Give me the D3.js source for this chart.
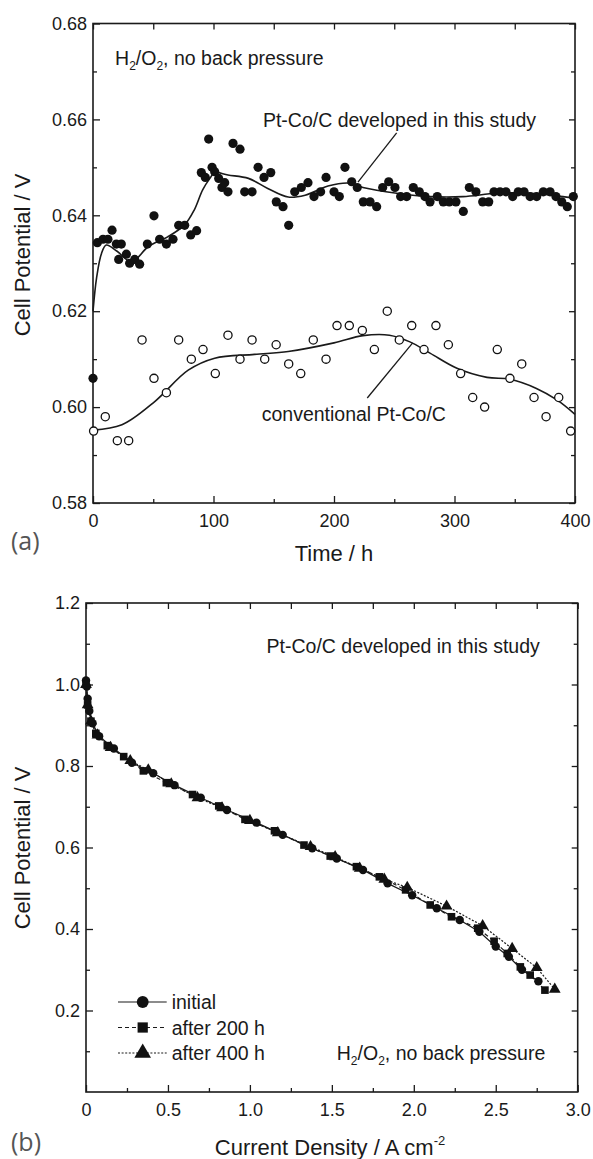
<!DOCTYPE html>
<html>
<head>
<meta charset="utf-8">
<script src="https://cdn.jsdelivr.net/npm/d3@7"></script>
<style>
  body { margin: 0; background: #fff; }
  svg { display: block; }
  text { font-family: "Liberation Sans", Arial, sans-serif; fill: #1a1a1a; }
</style>
</head>
<body>
<svg id="chart" width="593" height="1159"></svg>
<script>
// ---- panel (a): durability at 0.? A cm-2, cell potential vs time ----
const devTime = [0, 3.6, 8.3, 12.4, 15.8, 19.4, 21.3, 23.5, 27.7, 30.4, 34.6, 38.7, 45.1, 50.6, 55.3, 60.9, 66.4, 71.1, 76.1, 81.1,
    86, 89.9, 93.2, 96, 98.8, 101, 104.3, 107, 109.3, 112, 116.2, 122, 125.9, 132, 137, 141.9, 147.5, 152.1, 157.7, 162.4,
    167.4, 172.9, 178.4, 183.4, 188.9, 193.4, 200, 204.4, 209.1, 214.7, 219.3, 224.3, 229.9, 235.4, 240.4, 245.4, 250.6, 255.3, 260.3, 265.8,
    270.8, 275.5, 279.7, 285.7, 290.7, 295.7, 301.2, 307.3, 312.3, 317.8, 323.4, 328.4, 332.8, 337.8, 342.7, 348.3, 352.9, 357.7, 362.7, 368.2,
    373.7, 379.3, 384.2, 389, 393.6, 398.6];
const devV = [0.606, 0.6343, 0.6350, 0.6350, 0.6369, 0.6340, 0.6308, 0.6340, 0.6319, 0.6300, 0.6308, 0.6298, 0.6340, 0.6399, 0.6350, 0.6340, 0.6350, 0.6379, 0.6379, 0.6359,
    0.6368, 0.6489, 0.6479, 0.6559, 0.6500, 0.6491, 0.6477, 0.6458, 0.6468, 0.6449, 0.6550, 0.6538, 0.6449, 0.6449, 0.6500, 0.6479, 0.6489, 0.6428, 0.6418, 0.6379,
    0.6449, 0.6458, 0.6468, 0.6439, 0.6449, 0.6479, 0.6449, 0.6439, 0.6500, 0.6470, 0.6458, 0.6428, 0.6428, 0.6418, 0.6458, 0.6470, 0.6458, 0.6439, 0.6439, 0.6458,
    0.6449, 0.6439, 0.6428, 0.6439, 0.6428, 0.6428, 0.6428, 0.6408, 0.6458, 0.6449, 0.6428, 0.6428, 0.6449, 0.6449, 0.6449, 0.6439, 0.6449, 0.6449, 0.6439, 0.6439,
    0.6449, 0.6449, 0.6439, 0.6428, 0.6418, 0.6439];

const convTime = [0.5, 10.2, 20.2, 29.6, 40.7, 50.6, 60.9, 71.1, 81.6, 91.3, 101.5, 112, 122, 132, 142.5, 152, 162.4, 172.4, 182.8, 193.4,
    202.5, 212.7, 223.5, 233.5, 244.2, 254.2, 264.5, 274.7, 284.6, 294.9, 305.1, 315.1, 325, 335.5, 346, 355.8, 366, 376, 386.5, 396.4];
const convV = [0.595, 0.598, 0.593, 0.593, 0.614, 0.606, 0.603, 0.614, 0.610, 0.612, 0.607, 0.615, 0.610, 0.614, 0.610, 0.613, 0.609, 0.607, 0.614, 0.610,
    0.617, 0.617, 0.616, 0.612, 0.620, 0.614, 0.617, 0.612, 0.617, 0.613, 0.607, 0.602, 0.600, 0.612, 0.606, 0.609, 0.602, 0.598, 0.602, 0.595];

// smoothed trend lines
const fitDevT = [0, 3, 7, 11, 20, 32, 46, 62, 76, 84, 91, 97, 101, 112, 129, 145, 162, 176, 195, 213, 224, 252, 280, 307, 335, 363, 390, 400];
const fitDevV = [0.620, 0.627, 0.632, 0.6338, 0.6325, 0.6303, 0.6335, 0.6355, 0.6380, 0.6411, 0.6453, 0.6477, 0.6489, 0.6484, 0.6477, 0.6456, 0.6438, 0.6442,
    0.6461, 0.6467, 0.6458, 0.6446, 0.6439, 0.6439, 0.6446, 0.6446, 0.6439, 0.6436];
const fitConvT = [0, 24, 51, 79, 101, 134, 162, 200, 224, 246, 263, 280, 302, 327, 346, 368, 385, 400];
const fitConvV = [0.5952, 0.5963, 0.6011, 0.6077, 0.6102, 0.6110, 0.6116, 0.6134, 0.6149, 0.6150, 0.6136, 0.6112, 0.6081, 0.6062, 0.6058, 0.6039, 0.6015, 0.5985];

const timeTicks = [0, 100, 200, 300, 400];
const timeMinor = [50, 150, 250, 350];
const vTicksA = [0.58, 0.60, 0.62, 0.64, 0.66, 0.68];
const vMinorA = [0.59, 0.61, 0.63, 0.65, 0.67];

// ---- panel (b): polarization curves ----
const initJ = [0, 0.005, 0.01, 0.02, 0.04, 0.08, 0.17, 0.28, 0.41, 0.54, 0.70, 0.86, 1.04, 1.20, 1.38, 1.53, 1.69, 1.84, 1.99, 2.14, 2.28, 2.40, 2.50, 2.58, 2.66, 2.76];
const initV = [1.01, 0.995, 0.965, 0.935, 0.905, 0.873, 0.843, 0.808, 0.782, 0.753, 0.722, 0.692, 0.661, 0.631, 0.598, 0.573, 0.545, 0.512, 0.483, 0.451, 0.422, 0.393, 0.357, 0.332, 0.300, 0.272];
const h200J = [0, 0.01, 0.03, 0.06, 0.13, 0.23, 0.35, 0.49, 0.65, 0.81, 0.97, 1.15, 1.33, 1.49, 1.65, 1.79, 1.95, 2.10, 2.23, 2.39, 2.49, 2.57, 2.65, 2.71, 2.80];
const h200V = [1.0, 0.95, 0.91, 0.88, 0.85, 0.823, 0.788, 0.759, 0.730, 0.702, 0.669, 0.641, 0.606, 0.579, 0.553, 0.528, 0.496, 0.459, 0.430, 0.402, 0.370, 0.340, 0.307, 0.287, 0.250];
const h400J = [0, 0.01, 0.03, 0.07, 0.15, 0.27, 0.38, 0.52, 0.68, 0.83, 1.00, 1.17, 1.37, 1.52, 1.67, 1.82, 1.96, 2.20, 2.42, 2.60, 2.75, 2.86];
const h400V = [1.0, 0.95, 0.91, 0.876, 0.845, 0.813, 0.790, 0.756, 0.722, 0.697, 0.666, 0.636, 0.602, 0.577, 0.549, 0.522, 0.502, 0.456, 0.408, 0.352, 0.305, 0.252];

const seriesNames = ["initial", "after 200 h", "after 400 h"];
const jTicks = [0, 0.5, 1.0, 1.5, 2.0, 2.5, 3.0];
const jMinor = [0.25, 0.75, 1.25, 1.75, 2.25, 2.75];
const vTicksB = [0.2, 0.4, 0.6, 0.8, 1.0, 1.2];
const vMinorB = [0.1, 0.3, 0.5, 0.7, 0.9, 1.1];

const ink = "#1a1a1a";
const svg = d3.select("#chart");
svg.append("rect").attr("width", 593).attr("height", 1159).attr("fill", "#fff");

const zip = (a, b) => a.map((v, i) => [v, b[i]]);

function drawFrame(x, y, xt, xm, yt, ym, xf, yf) {
    const [x0, x1] = x.range();
    const [y0, y1] = y.range();
    const g = svg.append("g").style("color", ink);
    const styleAxis = sel => {
        sel.select(".domain").remove();
        sel.selectAll("line").attr("stroke-width", 1.3);
        sel.selectAll("text").attr("font-family", null).style("font-size", "18px");
    };
    // labelled sides
    g.append("g").attr("transform", `translate(0,${y0})`)
        .call(d3.axisBottom(x).tickValues(xt).tickSizeInner(-7).tickSizeOuter(0).tickPadding(11).tickFormat(xf)).call(styleAxis);
    g.append("g").attr("transform", `translate(${x0},0)`)
        .call(d3.axisLeft(y).tickValues(yt).tickSizeInner(-7).tickSizeOuter(0).tickPadding(6).tickFormat(yf)).call(styleAxis);
    g.append("g").attr("transform", `translate(0,${y0})`)
        .call(d3.axisBottom(x).tickValues(xm).tickSizeInner(-4).tickSizeOuter(0).tickFormat("")).call(styleAxis);
    g.append("g").attr("transform", `translate(${x0},0)`)
        .call(d3.axisLeft(y).tickValues(ym).tickSizeInner(-4).tickSizeOuter(0).tickFormat("")).call(styleAxis);
    // mirrored sides
    g.append("g").attr("transform", `translate(0,${y1})`)
        .call(d3.axisTop(x).tickValues(xt.concat(xm)).tickSizeInner(-6).tickSizeOuter(0).tickFormat("")).call(styleAxis);
    g.append("g").attr("transform", `translate(${x1},0)`)
        .call(d3.axisRight(y).tickValues(yt).tickSizeInner(-6).tickSizeOuter(0).tickFormat("")).call(styleAxis);
    g.append("g").attr("transform", `translate(${x1},0)`)
        .call(d3.axisRight(y).tickValues(ym).tickSizeInner(-4).tickSizeOuter(0).tickFormat("")).call(styleAxis);
    g.append("rect").attr("x", x0).attr("y", y1).attr("width", x1 - x0).attr("height", y0 - y1)
        .attr("fill", "none").attr("stroke", ink).attr("stroke-width", 1.6);
}

function subText(xp, yp, size) {
    // "H2/O2, no back pressure" with subscripts
    const t = svg.append("text").attr("x", xp).attr("y", yp).style("font-size", size + "px");
    t.append("tspan").text("H");
    t.append("tspan").attr("dy", 5).style("font-size", "12px").text("2");
    t.append("tspan").attr("dy", -5).text("/O");
    t.append("tspan").attr("dy", 5).style("font-size", "12px").text("2");
    t.append("tspan").attr("dy", -5).text(", no back pressure");
}

function yTitle(xp, yc) {
    svg.append("text").attr("transform", `translate(${xp},${yc}) rotate(-90)`)
        .attr("text-anchor", "middle").style("font-size", "22px").text("Cell Potential / V");
}

// ================= panel (a) =================
const xA = d3.scaleLinear().domain([0, 400]).range([93, 575]);
const yA = d3.scaleLinear().domain([0.58, 0.68]).range([503, 23.5]);

drawFrame(xA, yA, timeTicks, timeMinor, vTicksA, vMinorA, d3.format("d"), d3.format(".2f"));

const lineA = d3.line().x(d => xA(d[0])).y(d => yA(d[1])).curve(d3.curveCatmullRom.alpha(0.5));
svg.append("path").datum(zip(fitDevT, fitDevV)).attr("d", lineA)
    .attr("fill", "none").attr("stroke", ink).attr("stroke-width", 1.6);
svg.append("path").datum(zip(fitConvT, fitConvV)).attr("d", lineA)
    .attr("fill", "none").attr("stroke", ink).attr("stroke-width", 1.6);

svg.append("g").selectAll("circle").data(zip(devTime, devV)).join("circle")
    .attr("cx", d => xA(d[0])).attr("cy", d => yA(d[1])).attr("r", 4.6).attr("fill", "#111");
svg.append("g").selectAll("circle").data(zip(convTime, convV)).join("circle")
    .attr("cx", d => xA(d[0])).attr("cy", d => yA(d[1])).attr("r", 4.1)
    .attr("fill", "#fff").attr("stroke", "#111").attr("stroke-width", 1.3);

// annotations
subText(xA(18.3), yA(0.6713), 19.5);
svg.append("text").attr("x", xA(141)).attr("y", yA(0.6584)).style("font-size", "19.5px").text("Pt-Co/C developed in this study");
svg.append("line").attr("x1", xA(252)).attr("y1", yA(0.6572)).attr("x2", xA(219.9)).attr("y2", yA(0.6469))
    .attr("stroke", ink).attr("stroke-width", 1.3);
svg.append("text").attr("x", xA(140)).attr("y", yA(0.597)).style("font-size", "19.5px").text("conventional Pt-Co/C");
svg.append("line").attr("x1", xA(227.6)).attr("y1", yA(0.6019)).attr("x2", xA(265.3)).attr("y2", yA(0.6134))
    .attr("stroke", ink).attr("stroke-width", 1.3);

yTitle(30, 255);
svg.append("text").attr("x", 334).attr("y", 561).attr("text-anchor", "middle").style("font-size", "22px").text("Time / h");
svg.append("text").attr("x", 11).attr("y", 550).style("font-family", "'Open Sans', sans-serif")
    .style("font-size", "25px").style("fill", "#555").text("(a)");

// ================= panel (b) =================
const xB = d3.scaleLinear().domain([0, 3]).range([86, 577.7]);
const yB = d3.scaleLinear().domain([0, 1.2]).range([1092, 603]);

drawFrame(xB, yB, jTicks, jMinor, vTicksB, vMinorB, d => d === 0 ? "0" : d3.format(".1f")(d), d3.format(".1f"));

const series = [
    { name: seriesNames[0], pts: zip(initJ, initV), dash: null, sym: d3.symbolCircle, size: 56, lsize: 110 },
    { name: seriesNames[1], pts: zip(h200J, h200V), dash: "4,3", sym: d3.symbolSquare, size: 58, lsize: 105 },
    { name: seriesNames[2], pts: zip(h400J, h400V), dash: "2,1.6", sym: d3.symbolTriangle, size: 60, lsize: 120 }
];

const lineB = d3.line().x(d => xB(d[0])).y(d => yB(d[1]));
series.forEach(s => {
    svg.append("path").datum(s.pts).attr("d", lineB).attr("fill", "none")
        .attr("stroke", ink).attr("stroke-width", 1.2).attr("stroke-dasharray", s.dash);
});
series.forEach(s => {
    svg.append("g").selectAll("path").data(s.pts).join("path")
        .attr("transform", d => `translate(${xB(d[0])},${yB(d[1])})`)
        .attr("d", d3.symbol(s.sym, s.size)).attr("fill", "#111");
});

// legend
const leg = svg.append("g").attr("transform", "translate(118,1002)");
series.forEach((s, i) => {
    const row = leg.append("g").attr("transform", `translate(0,${i * 25.5})`);
    row.append("line").attr("x1", 0).attr("x2", 48.7).attr("stroke", ink).attr("stroke-width", 1.2)
        .attr("stroke-dasharray", s.dash);
    row.append("path").attr("transform", "translate(24.7,0)").attr("d", d3.symbol(s.sym, s.lsize)).attr("fill", "#111");
    row.append("text").attr("x", 53.7).attr("y", 7).style("font-size", "19.5px").text(s.name);
});

svg.append("text").attr("x", xB(1.102)).attr("y", yB(1.077)).style("font-size", "19.5px").text("Pt-Co/C developed in this study");
subText(xB(1.53), yB(0.079), 19.5);

yTitle(30, 848);
const xt = svg.append("text").attr("x", 330).attr("y", 1155).attr("text-anchor", "middle").style("font-size", "22px");
xt.append("tspan").text("Current Density / A cm");
xt.append("tspan").attr("dy", -10).style("font-size", "13px").text("-2");
svg.append("text").attr("x", 11).attr("y", 1151).style("font-family", "'Open Sans', sans-serif")
    .style("font-size", "25px").style("fill", "#555").text("(b)");
</script>
</body>
</html>
